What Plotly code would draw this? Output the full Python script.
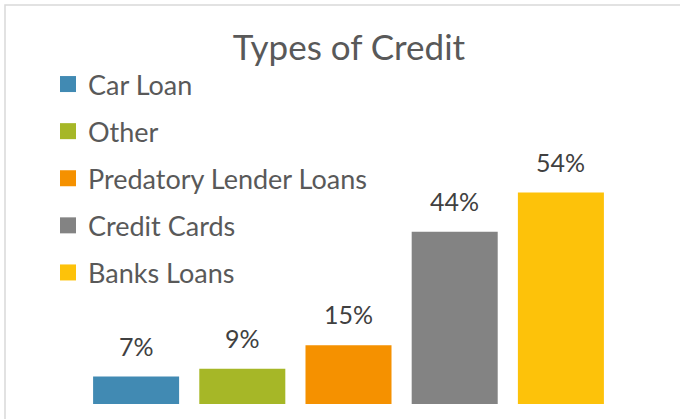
import plotly.graph_objects as go

categories = ["Car Loan", "Other", "Predatory Lender Loans", "Credit Cards", "Banks Loans"]
values = [7, 9, 15, 44, 54]
labels = ["7%", "9%", "15%", "44%", "54%"]
colors = ["#418AB3", "#A6B727", "#F59100", "#838383", "#FDC20A"]

W, H = 680, 419
ml, mr, mt, mb = 83, 66, 169, 15
pw, ph = W - ml - mr, H - mt - mb
FONT = "Lato"

fig = go.Figure()
for i, (c, v, col) in enumerate(zip(categories, values, colors)):
    fig.add_trace(go.Bar(x=[c], y=[v], marker=dict(color=col, line=dict(width=0)),
                         width=0.81, showlegend=False, hoverinfo="skip"))
for i, (c, col) in enumerate(zip(categories, colors)):
    fig.add_trace(go.Scatter(x=[None], y=[None], mode="markers", name=c,
                             marker=dict(symbol="square", size=16, color=col, line=dict(width=0)),
                             legendgroup=c, showlegend=True))

for c, v, t in zip(categories, values, labels):
    fig.add_annotation(x=c, y=v, text=t, showarrow=False, yanchor="bottom", yshift=14,
                       font=dict(family=FONT, size=25, color="#404040"))

fig.add_shape(type="rect", xref="paper", yref="paper",
              x0=(5 - ml) / pw, x1=2, y0=-1, y1=(H - mb - 5) / ph,
              line=dict(color="#D9D9D9", width=1.5), layer="below")

fig.update_layout(
    width=W, height=H,
    margin=dict(l=ml, r=mr, t=mt, b=mb),
    paper_bgcolor="white", plot_bgcolor="white",
    title=dict(text="Types of Credit", x=349 / W, xanchor="center", xref="container",
               y=1 - 48 / H, yanchor="middle",
               font=dict(family=FONT, size=35, color="#595959")),
    barmode="overlay",
    xaxis=dict(type="category", categoryorder="array", categoryarray=categories,
               range=[-0.5, 4.5], showticklabels=False, showgrid=False, zeroline=False,
               showline=False, ticks=""),
    yaxis=dict(range=[0, 60], showticklabels=False, showgrid=False, zeroline=False,
               showline=False, ticks=""),
    legend=dict(x=(48 - ml) / pw, xanchor="left", y=(H - mb - 60) / ph, yanchor="top",
                font=dict(family=FONT, size=27, color="#595959"),
                tracegroupgap=9, bgcolor="rgba(0,0,0,0)", itemclick=False,
                maxheight=400),
    showlegend=True,
)
fig.write_html("out.html", config={"displayModeBar": False},
               post_script="document.body.style.margin='0px';")
